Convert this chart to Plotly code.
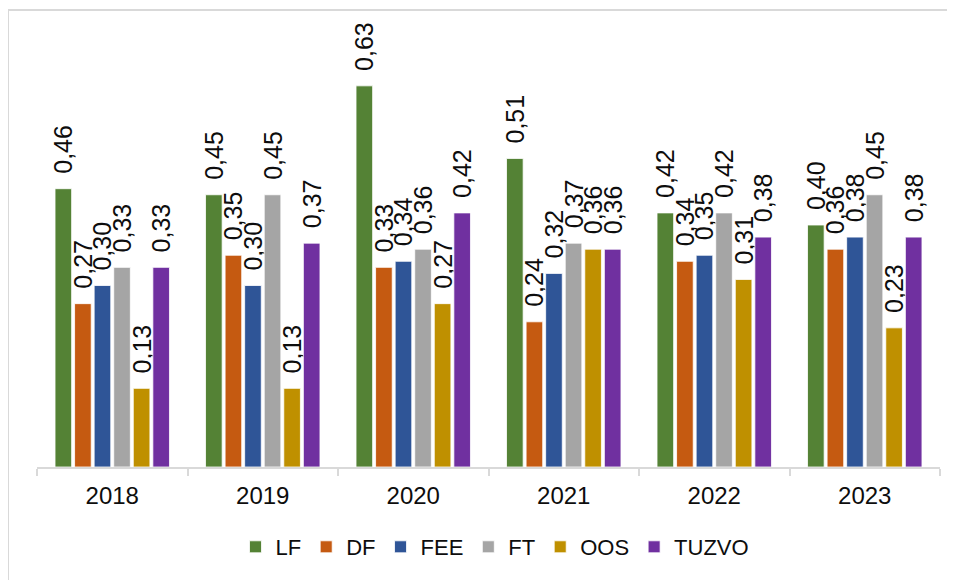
import plotly.graph_objects as go

years = ["2018", "2019", "2020", "2021", "2022", "2023"]
series_names = ["LF", "DF", "FEE", "FT", "OOS", "TUZVO"]
lf = [0.46, 0.45, 0.63, 0.51, 0.42, 0.40]
df = [0.27, 0.35, 0.33, 0.24, 0.34, 0.36]
fee = [0.30, 0.30, 0.34, 0.32, 0.35, 0.38]
ft = [0.33, 0.45, 0.36, 0.37, 0.42, 0.45]
oos = [0.13, 0.13, 0.27, 0.36, 0.31, 0.23]
tuzvo = [0.33, 0.37, 0.42, 0.36, 0.38, 0.38]

colors = ["#548235", "#C55A11", "#2F5597", "#A5A5A5", "#BF9000", "#7030A0"]
all_values = [lf, df, fee, ft, oos, tuzvo]

fig = go.Figure()
for name, vals, col in zip(series_names, all_values, colors):
    fig.add_trace(go.Bar(
        x=years, y=vals, name=name,
        marker=dict(color=col, line=dict(color="white", width=0.8)),
        text=["\u00a0\u2009" + f"{v:.2f}".replace(".", ",") for v in vals],
        textposition="outside", textangle=-90,
        textfont=dict(size=25, color="#0d0d0d", family="Liberation Sans, Arial, sans-serif"),
        cliponaxis=False, constraintext="none",
    ))

# page offset (body margin) of 8px
OFF = 8
# plot area geometry in page pixels
L, R_px, T, B = 37 - OFF, 940 - OFF, 44 - OFF, 467 - OFF
W, H = 955 - OFF, 580 - OFF
ymax = (B - T) / 605.0

def px(x):
    return (x - OFF - L) / (R_px - L)

def py(y):
    return (B - (y - OFF)) / (B - T)

fig.update_layout(
    width=W, height=H,
    margin=dict(l=L, r=W - R_px, t=T, b=H - B, autoexpand=False),
    paper_bgcolor="white", plot_bgcolor="white",
    barmode="group", bargap=0.22, bargroupgap=0.15,
    font=dict(family="Liberation Sans, Arial, sans-serif", color="#0d0d0d"),
    showlegend=True,
    legend=dict(orientation="h", x=px(495), xanchor="center", y=py(547), yanchor="middle",
                font=dict(size=22, color="#0d0d0d"), itemwidth=30, traceorder="normal"),
    xaxis=dict(showline=True, linecolor="#d9d9d9", linewidth=2, automargin=False,
               ticks="outside", tickson="boundaries", ticklen=7, tickcolor="#d9d9d9", tickwidth=2,
               ticklabelstandoff=6,
               tickfont=dict(size=24, color="#0d0d0d"), showgrid=False, zeroline=False),
    yaxis=dict(visible=False, range=[0, ymax], showgrid=False, zeroline=False, automargin=False),
    shapes=[dict(type="rect", xref="paper", yref="paper",
                 x0=px(8), x1=px(975), y0=py(600), y1=py(10),
                 line=dict(color="#d9d9d9", width=2), fillcolor="rgba(0,0,0,0)", layer="below")],
)

fig.write_html("out.html")
